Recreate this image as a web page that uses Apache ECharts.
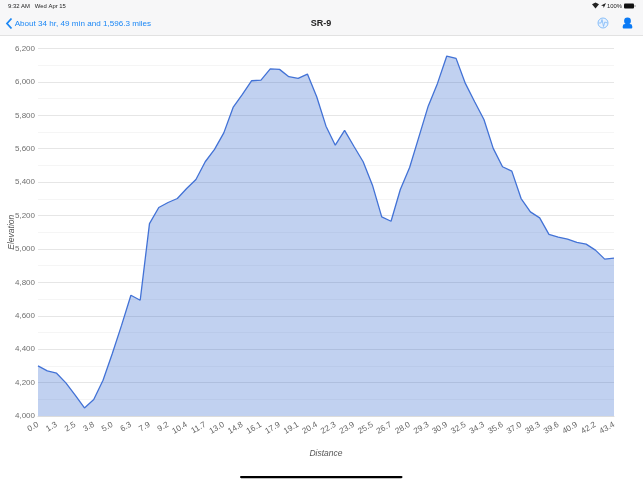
<!DOCTYPE html>
<html>
<head>
<meta charset="utf-8">
<style>html,body{margin:0;padding:0;background:#fff}#c{width:643px;height:482px}</style>
<script src="https://cdn.jsdelivr.net/npm/echarts@6/dist/echarts.min.js"></script>
</head>
<body>
<div id="c"></div>
<script>
const tickLabels = ['0.0','1.3','2.5','3.8','5.0','6.3','7.9','9.2','10.4','11.7','13.0','14.8','16.1','17.9','19.1','20.4','22.3','23.9','25.5','26.7','28.0','29.3','30.9','32.5','34.3','35.6','37.0','38.3','39.6','40.9','42.2','43.4'];
const elevation = [4300,4270,4256,4198,4125,4048,4099,4214,4374,4544,4723,4693,5152,5248,5278,5302,5362,5416,5522,5596,5695,5847,5925,6007,6011,6078,6075,6031,6021,6047,5911,5735,5621,5710,5615,5522,5382,5192,5166,5356,5488,5671,5855,5991,6155,6141,5991,5881,5775,5602,5492,5466,5302,5222,5186,5087,5071,5059,5039,5029,4993,4939,4945];
const categories = [];
tickLabels.forEach((t,i)=>{categories.push(t); if(i<tickLabels.length-1) categories.push('');});
const labelFont = '"Liberation Sans", Arial, sans-serif';
const uiFont = '"Liberation Sans", Arial, sans-serif';
const blue = '#1b87f5';
const chart = echarts.init(document.getElementById('c'), null, {renderer:'canvas'});
chart.setOption({
  animation:false,
  backgroundColor:'#ffffff',
  grid:{left:38,right:29,top:48.5,bottom:66,containLabel:false,outerBoundsMode:'none'},
  xAxis:{
    type:'category',data:categories,boundaryGap:false,
    name:'Distance',nameLocation:'middle',nameGap:33.5,nameMoveOverlap:false,
    nameTextStyle:{fontFamily:labelFont,fontSize:8.5,fontStyle:'italic',color:'#555'},
    axisLine:{show:true,lineStyle:{color:'#dcdcdc',width:1}},axisTick:{show:false},splitLine:{show:false},
    axisLabel:{interval:1,rotate:30,margin:8,fontFamily:labelFont,fontSize:8.2,color:'#666',showMaxLabel:true}
  },
  yAxis:{
    type:'value',min:4000,max:6200,interval:200,splitNumber:11,
    name:'Elevation',nameLocation:'middle',nameGap:22,nameRotate:90,nameMoveOverlap:false,
    nameTextStyle:{fontFamily:labelFont,fontSize:8.5,fontStyle:'italic',color:'#555'},
    axisLine:{show:false},axisTick:{show:false},
    axisLabel:{margin:3,fontFamily:labelFont,fontSize:8,color:'#707070',formatter:v=>v.toLocaleString('en-US')},
    splitLine:{show:true,lineStyle:{color:'#e6e6e6',width:1}},
    minorTick:{show:false,splitNumber:2},
    minorSplitLine:{show:true,lineStyle:{color:'#f5f5f5',width:1}}
  },
  series:[{
    type:'line',data:elevation,symbol:'none',smooth:false,
    lineStyle:{color:'#4272d6',width:1.3},
    areaStyle:{color:'#3366cc',opacity:0.3},
    clip:false
  }],
  graphic:[
    {type:'rect',z:-1,shape:{x:0,y:0,width:643,height:35},style:{fill:'#f7f7f8'}},
    {type:'rect',z:-1,shape:{x:0,y:35,width:643,height:1},style:{fill:'#e2e2e2'}},
    {type:'text',x:8,y:6,style:{text:'9:32 AM   Wed Apr 15',fontFamily:uiFont,fontSize:5.9,fill:'#222',verticalAlign:'middle'}},
    {type:'text',x:607,y:6,style:{text:'100%',fontFamily:uiFont,fontSize:5.9,fill:'#222',verticalAlign:'middle'}},
    {type:'polygon',shape:{points:[[592,4.2],[595.5,2.6],[599,4.2],[595.5,8.5]]},style:{fill:'#222'}},
    {type:'polygon',shape:{points:[[601,5.5],[606,3],[603.7,8],[603.3,6]]},style:{fill:'#222'}},
    {type:'rect',shape:{x:624,y:3.5,width:10,height:5,r:1},style:{fill:'#111'}},
    {type:'rect',shape:{x:634.5,y:5,width:1,height:2},style:{fill:'#999'}},
    {type:'polyline',shape:{points:[[11.5,18.5],[7,23.5],[11.5,28.5]]},style:{stroke:blue,lineWidth:1.8,fill:'none'}},
    {type:'text',x:14.7,y:23.5,style:{text:'About 34 hr, 49 min and 1,596.3 miles',fontFamily:uiFont,fontSize:8.1,fill:blue,verticalAlign:'middle'}},
    {type:'text',x:321,y:23.5,style:{text:'SR-9',fontFamily:uiFont,fontSize:9,fontWeight:'bold',fill:'#222',align:'center',verticalAlign:'middle'}},
    {type:'circle',shape:{cx:603,cy:23,r:5},style:{fill:'#e8f2fe',stroke:'#7db8f7',lineWidth:0.9}},
    {type:'polyline',shape:{points:[[598.5,23],[601,23],[602,19.5],[603.5,26.5],[604.8,22],[607.5,23]]},style:{stroke:'#7db8f7',lineWidth:0.8,fill:'none'}},
    {type:'circle',shape:{cx:627.5,cy:21,r:3.4},style:{fill:'#0a7af5'}},
    {type:'rect',shape:{x:622.7,y:24,width:9.6,height:4.6,r:[2.4,2.4,1,1]},style:{fill:'#0a7af5'}},
    {type:'rect',shape:{x:240,y:476,width:162.5,height:2.2,r:1.1},style:{fill:'#000'}}
  ]
});
</script>
</body>
</html>
